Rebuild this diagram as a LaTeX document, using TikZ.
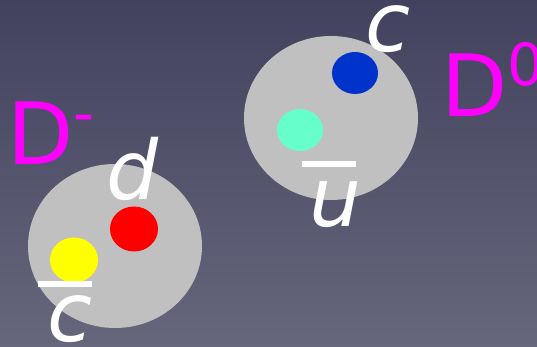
\documentclass[tikz,border=0pt]{standalone}
\usepackage{fontspec}
\setmainfont{DejaVu Sans}
\usepackage{tikz}
\usetikzlibrary{positioning,shapes.geometric}
\definecolor{bgtop}{RGB}{66,66,94}
\definecolor{bgbot}{RGB}{102,102,124}
\definecolor{mesongray}{RGB}{192,192,192}
\definecolor{qred}{RGB}{255,0,0}
\definecolor{qyellow}{RGB}{255,255,0}
\definecolor{qblue}{RGB}{0,51,204}
\definecolor{qaqua}{RGB}{102,255,204}
\definecolor{labmag}{RGB}{255,0,255}
\tikzset{
  meson/.style  ={ellipse, fill=mesongray, inner sep=0pt,
                  minimum width=174pt, minimum height=164pt},
  quark/.style  ={ellipse, inner sep=0pt, minimum width=48pt, minimum height=45pt},
  flavour/.style={text=white, inner sep=0pt, anchor=base,
                  font=\fontsize{82}{82}\selectfont\itshape},
  mname/.style  ={text=labmag, inner sep=0pt, anchor=base west,
                  font=\fontsize{86}{86}\selectfont},
  qbar/.style   ={white, line width=6pt},
}
\newcommand{\supsym}[1]{\raisebox{31pt}{\fontsize{58}{58}\selectfont #1}}

\begin{document}
\begin{tikzpicture}[x=1pt,y=1pt]
    \shade[top color=bgtop, bottom color=bgbot] (0,0) rectangle (537,347);
    \useasboundingbox (0,0) rectangle (537,347);

    % D- meson
    \node[meson] (dm) at (115,101) {};
    \node[quark, fill=qred] (qd) at (134,118) {};
    \node[quark, fill=qyellow] (qcb) at (74,87) {};
    \node[flavour] (ld) at (133,147) {d};
    \node[flavour] (lcb) at (70,5) {c};
    \draw[qbar] (38,63) -- (92,63);
    \node[mname] (ndm) at (7,182) {D\supsym{-}};

    % D0 meson
    \node[meson] (dz) at (331,229) {};
    \node[quark, fill=qblue, minimum width=46pt, minimum height=42pt] (qc) at (355,274) {};
    \node[quark, fill=qaqua, minimum width=46pt, minimum height=42pt] (qub) at (300,217) {};
    \node[flavour] (lc) at (388,295) {c};
    \node[flavour] (lub) at (335,120) {u};
    \draw[qbar] (302,183) -- (356,183);
    \node[mname] (ndz) at (441,230) {D\supsym{0}};
\end{tikzpicture}
\end{document}
